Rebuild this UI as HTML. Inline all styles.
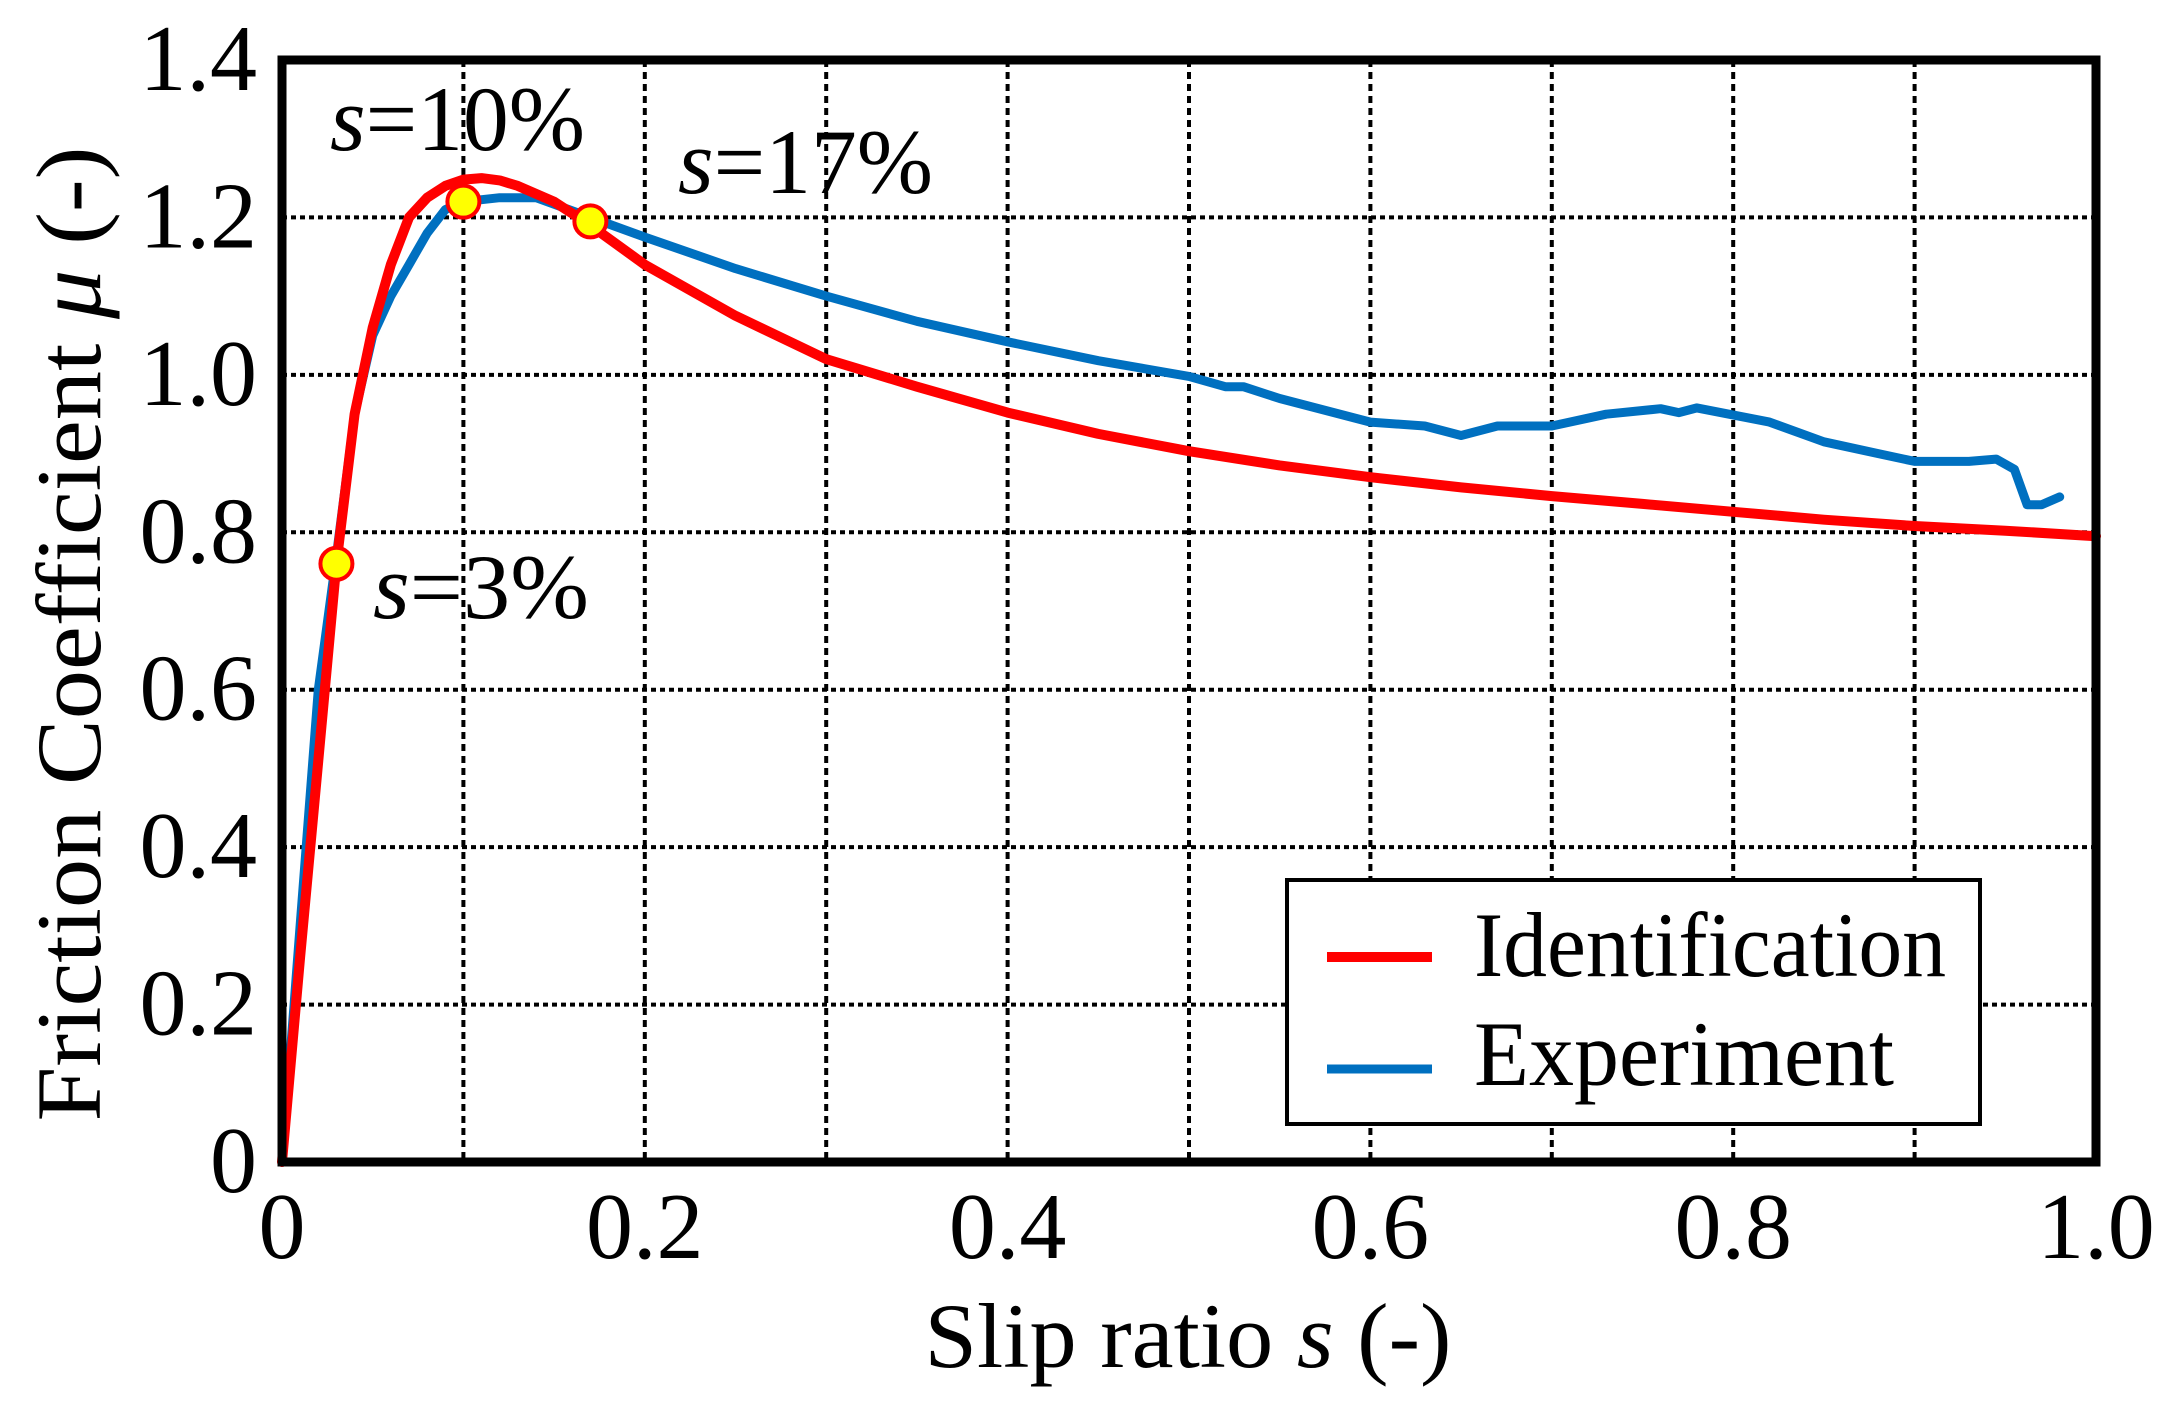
<!DOCTYPE html>
<html><head><meta charset="utf-8"><style>
html,body{margin:0;padding:0;background:#fff;}
svg{display:block;}
text{font-family:"Liberation Serif","DejaVu Serif",serif;fill:#000;}
</style></head><body>
<svg id="chart" width="2179" height="1428" viewBox="0 0 2179 1428" xmlns="http://www.w3.org/2000/svg">
<rect x="0" y="0" width="2179" height="1428" fill="#fff"/>
<g id="grid"></g>
<g id="series"></g>
<g id="marks"></g>
<rect x="282" y="60" width="1814" height="1102" fill="none" stroke="#000" stroke-width="9"/>
<g id="ticks"></g>
<text x="1188" y="1367" font-size="92" text-anchor="middle" textLength="527" lengthAdjust="spacingAndGlyphs">Slip ratio <tspan font-style="italic">s</tspan> (-)</text>
<text transform="translate(100,634) rotate(-90)" font-size="92" text-anchor="middle" textLength="975" lengthAdjust="spacingAndGlyphs">Friction Coefficient <tspan font-style="italic">μ</tspan> (-)</text>
<text x="330" y="150" font-size="92" textLength="255" lengthAdjust="spacingAndGlyphs"><tspan font-style="italic">s</tspan>=10%</text>
<text x="678" y="193" font-size="92" textLength="255" lengthAdjust="spacingAndGlyphs"><tspan font-style="italic">s</tspan>=17%</text>
<text x="373" y="618" font-size="92" textLength="216" lengthAdjust="spacingAndGlyphs"><tspan font-style="italic">s</tspan>=3%</text>
<g>
<rect x="1287" y="880" width="693" height="244" fill="#fff" stroke="#000" stroke-width="4"/>
<line x1="1327" y1="957" x2="1432" y2="957" stroke="#ff0000" stroke-width="10"/>
<text x="1474" y="976" font-size="92" textLength="472" lengthAdjust="spacingAndGlyphs">Identification</text>
<line x1="1327" y1="1069" x2="1432" y2="1069" stroke="#0070c0" stroke-width="9"/>
<text x="1474" y="1085" font-size="92" textLength="420" lengthAdjust="spacingAndGlyphs">Experiment</text>
</g>
</svg>
<script>
const xTicks = [0, 0.2, 0.4, 0.6, 0.8, 1.0];
const xTickLabels = ["0", "0.2", "0.4", "0.6", "0.8", "1.0"];
const yTicks = [0, 0.2, 0.4, 0.6, 0.8, 1.0, 1.2, 1.4];
const yTickLabels = ["0", "0.2", "0.4", "0.6", "0.8", "1.0", "1.2", "1.4"];
const idS = [0,0.01,0.02,0.03,0.04,0.05,0.06,0.07,0.08,0.09,0.10,0.11,0.12,0.13,0.15,0.17,0.2,0.25,0.3,0.35,0.4,0.45,0.5,0.55,0.6,0.65,0.7,0.75,0.8,0.85,0.9,0.95,1.0];
const idMu = [0,0.26,0.51,0.76,0.95,1.06,1.14,1.2,1.225,1.24,1.248,1.25,1.247,1.24,1.22,1.19,1.14,1.075,1.02,0.985,0.952,0.925,0.903,0.885,0.87,0.857,0.846,0.836,0.826,0.816,0.808,0.802,0.795];
const expS = [0,0.01,0.02,0.03,0.04,0.05,0.06,0.07,0.08,0.09,0.1,0.12,0.14,0.17,0.2,0.25,0.3,0.35,0.4,0.45,0.5,0.52,0.53,0.55,0.6,0.63,0.65,0.67,0.7,0.73,0.76,0.77,0.78,0.82,0.85,0.88,0.9,0.93,0.945,0.955,0.962,0.97,0.98];
const expMu = [0,0.3,0.6,0.77,0.95,1.05,1.1,1.14,1.18,1.21,1.22,1.225,1.225,1.2,1.175,1.135,1.1,1.068,1.042,1.018,0.998,0.985,0.985,0.97,0.94,0.935,0.923,0.935,0.935,0.95,0.957,0.952,0.958,0.94,0.915,0.9,0.89,0.89,0.893,0.88,0.835,0.835,0.845];
const markS = [0.03, 0.10, 0.17];
const markMu = [0.76, 1.22, 1.195];

const NS = "http://www.w3.org/2000/svg";
const X0 = 282, XW = 1814, Y0 = 1162, YH = 1102;
function xs(v){ return X0 + v * XW; }
function ys(v){ return Y0 - v / 1.4 * YH; }
function mk(tag, attrs, parent){
  const e = document.createElementNS(NS, tag);
  for (const k in attrs) e.setAttribute(k, attrs[k]);
  parent.appendChild(e);
  return e;
}
const grid = document.getElementById('grid');
for (let i = 1; i < 10; i++) {
  const gx = xs(i / 10);
  const l = mk('line', {x1: gx, y1: ys(1.4), x2: gx, y2: ys(0), stroke: '#000', 'stroke-width': 4, 'stroke-dasharray': '7,5'}, grid);
  
  
}
for (let i = 1; i < yTicks.length - 1; i++) {
  const gy = ys(yTicks[i]);
  const l = mk('line', {x1: xs(0), y1: gy, x2: xs(1), y2: gy, stroke: '#000', 'stroke-width': 4, 'stroke-dasharray': '5,4'}, grid);
  
  
}
const ticks = document.getElementById('ticks');
xTicks.forEach((v, i) => {
  const t = mk('text', {x: xs(v), y: 1258, 'font-size': 94, 'text-anchor': 'middle'}, ticks);
  t.textContent = xTickLabels[i];
  
  
});
yTicks.forEach((v, i) => {
  const t = mk('text', {x: 257, y: ys(v) + 30, 'font-size': 94, 'text-anchor': 'end'}, ticks);
  t.textContent = yTickLabels[i];
  
  
});
const series = document.getElementById('series');
function pathOf(sx, sy){ return sx.map((s, i) => (i ? 'L' : 'M') + xs(s).toFixed(1) + ',' + ys(sy[i]).toFixed(1)).join(' '); }
const pe = mk('path', {d: pathOf(expS, expMu), fill: 'none', stroke: '#0070c0', 'stroke-width': 9, 'stroke-linejoin': 'round', 'stroke-linecap': 'round'}, series);


const pi = mk('path', {d: pathOf(idS, idMu), fill: 'none', stroke: '#ff0000', 'stroke-width': 10, 'stroke-linejoin': 'round', 'stroke-linecap': 'round'}, series);


const marks = document.getElementById('marks');
markS.forEach((s, i) => {
  const c = mk('circle', {cx: xs(s), cy: ys(markMu[i]), r: 16, fill: '#ffff00', stroke: '#ff0000', 'stroke-width': 4}, marks);
  
  
});
</script>
</body></html>
